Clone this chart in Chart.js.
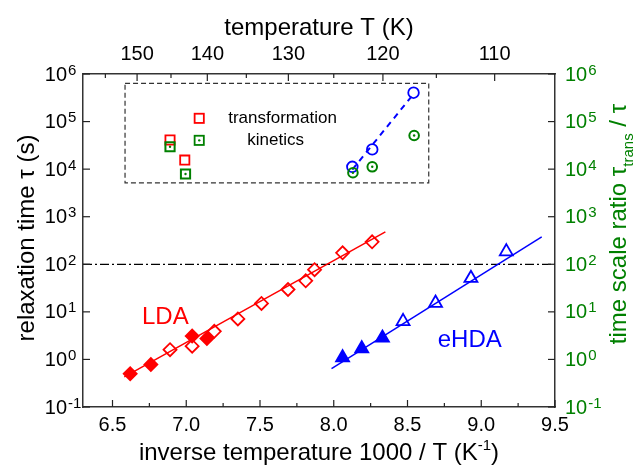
<!DOCTYPE html>
<html>
<head>
<meta charset="utf-8">
<script src="https://cdn.jsdelivr.net/npm/chart.js@4.4.1/dist/chart.umd.min.js"></script>
<style>
  html, body { margin: 0; padding: 0; background: #fff; }
</style>
</head>
<body>
<canvas id="chart" width="640" height="471"></canvas>
<script>
// LDA relaxation times (red diamonds) and fit
const ldaFilledX = [6.62, 6.76, 7.04, 7.14];
const ldaFilledTau = [0.50, 0.78, 3.1, 2.75];
const ldaOpenX = [6.89, 7.04, 7.19, 7.35, 7.51, 7.69, 7.81, 7.87, 8.06, 8.26];
const ldaOpenTau = [1.6, 1.9, 3.9, 7.1, 15, 29.5, 45, 77, 174, 297];
const ldaFitX = [6.58, 8.35];
const ldaFitTau = [0.43, 480];

// eHDA relaxation times (blue triangles) and fit
const ehdaFilledX = [8.06, 8.19, 8.33];
const ehdaFilledTau = [1.09, 1.69, 2.83];
const ehdaOpenX = [8.47, 8.69, 8.93, 9.17];
const ehdaOpenTau = [6.3, 15.3, 51, 185];
const ehdaFitX = [7.985, 9.41];
const ehdaFitTau = [0.64, 378];

// transformation kinetics (inset): tau_trans on the left axis, ratio on the right
const transLdaX = [6.89, 6.99];
const transLdaTau = [4.1e4, 1.55e4];
const ratioLdaX = [6.89, 6.995];
const ratioLda = [2.96e4, 7.9e3];
const transEhdaX = [8.126, 8.261, 8.541];
const transEhdaTau = [1.12e4, 2.6e4, 4.04e5];
const ratioEhdaX = [8.13, 8.261, 8.545];
const ratioEhda = [8.4e3, 1.12e4, 5.1e4];
const transFitX = [8.126, 8.541];
const transFitTau = [9.8e3, 3.8e5];

// tau = 100 s reference
const thresholdX = [6.3, 9.5];
const thresholdTau = [100, 100];

// axes
const invTempTicks = [6.5, 7.0, 7.5, 8.0, 8.5, 9.0, 9.5];
const invTempMinor = [6.75, 7.25, 7.75, 8.25, 8.75, 9.25];
const tempTicks = [150, 140, 130, 120, 110];
const tempMinor = [155, 145, 135, 125, 115];
const decadeExps = [-1, 0, 1, 2, 3, 4, 5, 6];

const RED = '#ff0000', BLUE = '#0000ff', GREEN = '#008000', INK = '#222';
const FONT = '"Liberation Sans", Arial, sans-serif';
Chart.defaults.font.family = FONT;

const pts = (xs, ys) => xs.map((x, i) => ({ x: x, y: ys[i] }));

function markers(label, xs, ys, style, r, color, filled, axis, bw) {
    return {
        label: label,
        data: pts(xs, ys),
        yAxisID: axis || 'y',
        showLine: false,
        pointStyle: style,
        pointRadius: r,
        pointHoverRadius: r,
        pointBorderWidth: bw === undefined ? 1.8 : bw,
        pointBorderColor: color,
        pointBackgroundColor: filled ? color : 'rgba(0,0,0,0)',
        borderColor: color,
        backgroundColor: color
    };
}

function fitLine(label, xs, ys, color, dash, width) {
    return {
        label: label,
        data: pts(xs, ys),
        showLine: true,
        pointRadius: 0,
        pointHoverRadius: 0,
        borderColor: color,
        borderWidth: width,
        borderDash: dash,
        fill: false
    };
}

// draws ticks pointing inwards, power-of-ten labels, titles and the inset frame
const decor = {
    id: 'decor',
    afterDraw(chart) {
        const ctx = chart.ctx;
        const { x, x2, y, y2 } = chart.scales;
        const area = chart.chartArea;
        ctx.save();

        ctx.strokeStyle = INK;
        ctx.lineWidth = 1.2;
        const mark = (scale, v, len) => {
            const p = scale.getPixelForValue(v);
            ctx.beginPath();
            if (scale.id === 'x') { ctx.moveTo(p, area.bottom); ctx.lineTo(p, area.bottom - len); }
            else if (scale.id === 'x2') { ctx.moveTo(p, area.top); ctx.lineTo(p, area.top + len); }
            else if (scale.id === 'y') { ctx.moveTo(area.left, p); ctx.lineTo(area.left + len, p); }
            else { ctx.moveTo(area.right, p); ctx.lineTo(area.right - len, p); }
            ctx.stroke();
        };
        invTempTicks.forEach(v => mark(x, v, 7));
        invTempMinor.forEach(v => mark(x, v, 4));
        tempTicks.forEach(t => mark(x2, 1000 / t, 7));
        tempMinor.forEach(t => mark(x2, 1000 / t, 4));
        decadeExps.forEach(e => { mark(y, Math.pow(10, e), 7); mark(y2, Math.pow(10, e), 7); });

        // 10^n labels
        const power = (e, xPos, yPos, side, color) => {
            ctx.fillStyle = color;
            ctx.textAlign = 'left';
            ctx.font = '20px ' + FONT;
            const bw = ctx.measureText('10').width;
            const x0 = side === 'left' ? xPos - bw : xPos;
            ctx.textBaseline = 'middle';
            ctx.fillText('10', x0, yPos + 1);
            ctx.font = '15px ' + FONT;
            ctx.textBaseline = 'alphabetic';
            ctx.fillText(String(e), x0 + bw + 1, yPos + 0.5);
        };
        decadeExps.forEach(e => {
            const p = y.getPixelForValue(Math.pow(10, e));
            power(e, area.left - 16, p, 'left', '#000');
            power(e, area.right + 10, p, 'right', GREEN);
        });

        // text made of parts, some raised or lowered
        const rich = (parts, cx, cy, rot, color) => {
            ctx.save();
            ctx.translate(cx, cy);
            ctx.rotate(rot);
            ctx.fillStyle = color;
            ctx.textAlign = 'left';
            ctx.textBaseline = 'alphabetic';
            let total = 0;
            parts.forEach(p => { ctx.font = p.size + 'px ' + FONT; p.w = ctx.measureText(p.t).width; total += p.w; });
            let pos = -total / 2;
            parts.forEach(p => { ctx.font = p.size + 'px ' + FONT; ctx.fillText(p.t, pos, p.dy); pos += p.w; });
            ctx.restore();
        };
        rich([{ t: 'temperature T (K)', size: 24, dy: 0 }], 319, 35, 0, '#000');
        rich([
            { t: 'inverse temperature 1000 / T (K', size: 24, dy: 0 },
            { t: '-1', size: 15, dy: -10 },
            { t: ')', size: 24, dy: 0 }
        ], 319, 460, 0, '#000');
        rich([{ t: 'relaxation time \u03c4 (s)', size: 24, dy: 0 }], 34, 238, -Math.PI / 2, '#000');
        rich([
            { t: 'time scale ratio \u03c4', size: 24, dy: 0 },
            { t: 'trans', size: 15, dy: 7.5 },
            { t: ' / \u03c4', size: 24, dy: 0 }
        ], 625.5, 224, -Math.PI / 2, GREEN);

        // series labels
        ctx.font = '24px ' + FONT;
        ctx.textAlign = 'left';
        ctx.textBaseline = 'alphabetic';
        ctx.fillStyle = RED;
        ctx.fillText('LDA', x.getPixelForValue(6.70), y.getPixelForValue(5.6));
        ctx.fillStyle = BLUE;
        ctx.fillText('eHDA', x.getPixelForValue(8.705), y.getPixelForValue(1.8));

        // inset frame
        const bx0 = x.getPixelForValue(6.585), bx1 = x.getPixelForValue(8.644);
        const by0 = y.getPixelForValue(6.37e5), by1 = y.getPixelForValue(5.16e3);
        ctx.strokeStyle = '#333';
        ctx.lineWidth = 1.2;
        ctx.setLineDash([5, 3]);
        ctx.strokeRect(bx0, by0, bx1 - bx0, by1 - by0);
        ctx.setLineDash([]);

        // inset key
        const kx = x.getPixelForValue(7.088);
        const ky1 = y.getPixelForValue(1.17e5), ky2 = y.getPixelForValue(4.03e4);
        ctx.lineWidth = 1.8;
        ctx.strokeStyle = RED;
        ctx.strokeRect(kx - 4.6, ky1 - 4.6, 9.2, 9.2);
        ctx.strokeStyle = GREEN;
        ctx.strokeRect(kx - 4.6, ky2 - 4.6, 9.2, 9.2);
        ctx.fillStyle = GREEN;
        ctx.beginPath();
        ctx.arc(kx, ky2, 1.2, 0, Math.PI * 2);
        ctx.fill();
        ctx.fillStyle = '#000';
        ctx.font = '17px ' + FONT;
        ctx.textBaseline = 'middle';
        ctx.fillText('transformation', kx + 29, ky1);
        ctx.fillText('kinetics', kx + 48, ky2);

        ctx.restore();
    }
};

const border = { display: true, color: '#333', width: 1.5 };
const noGrid = { display: false, drawTicks: false };

new Chart(document.getElementById('chart'), {
    type: 'scatter',
    data: {
        datasets: [
            markers('ratio LDA dot', ratioLdaX, ratioLda, 'circle', 1.2, GREEN, true, 'y2', 0),
            markers('ratio eHDA dot', ratioEhdaX, ratioEhda, 'circle', 1.2, GREEN, true, 'y2', 0),
            markers('ratio LDA', ratioLdaX, ratioLda, 'rect', 6.5, GREEN, false, 'y2', 2),
            markers('ratio eHDA', ratioEhdaX, ratioEhda, 'circle', 4.8, GREEN, false, 'y2', 2),
            markers('trans LDA', transLdaX, transLdaTau, 'rect', 6.5, RED, false),
            markers('trans eHDA', transEhdaX, transEhdaTau, 'circle', 5.3, BLUE, false),
            markers('LDA filled', ldaFilledX, ldaFilledTau, 'rectRot', 6.5, RED, true),
            markers('LDA open', ldaOpenX, ldaOpenTau, 'rectRot', 6.5, RED, false),
            markers('eHDA filled', ehdaFilledX, ehdaFilledTau, 'triangle', 7.5, BLUE, true),
            markers('eHDA open', ehdaOpenX, ehdaOpenTau, 'triangle', 7.5, BLUE, false),
            fitLine('LDA fit', ldaFitX, ldaFitTau, RED, [], 1.5),
            fitLine('eHDA fit', ehdaFitX, ehdaFitTau, BLUE, [], 1.5),
            fitLine('trans fit', transFitX, transFitTau, BLUE, [6, 5], 2),
            fitLine('100 s', thresholdX, thresholdTau, '#000', [9, 3, 2, 3], 1.2)
        ]
    },
    options: {
        responsive: false,
        animation: false,
        devicePixelRatio: 1,
        events: [],
        layout: { padding: 0 },
        plugins: { legend: { display: false }, tooltip: { enabled: false } },
        scales: {
            x: {
                type: 'linear', position: 'bottom', min: 6.3, max: 9.5,
                grid: noGrid, border: border,
                afterBuildTicks: s => { s.ticks = invTempTicks.map(v => ({ value: v })); },
                afterFit: s => { s.height = 64; },
                ticks: { autoSkip: false, maxRotation: 0, padding: 6, color: '#000', font: { size: 20 },
                    callback: v => Number(v).toFixed(1) }
            },
            x2: {
                type: 'linear', position: 'top', min: 6.3, max: 9.5,
                grid: noGrid, border: border,
                afterBuildTicks: s => { s.ticks = tempTicks.map(t => ({ value: 1000 / t })); },
                afterFit: s => { s.height = 74; },
                ticks: { autoSkip: false, maxRotation: 0, padding: 8, color: '#000', font: { size: 20 },
                    callback: v => String(Math.round(1000 / v)) }
            },
            y: {
                type: 'logarithmic', position: 'left', min: 0.1, max: 1e6,
                grid: noGrid, border: border,
                ticks: { display: false },
                afterFit: s => { s.width = 83; }
            },
            y2: {
                type: 'logarithmic', position: 'right', min: 0.1, max: 1e6,
                grid: noGrid, border: border,
                ticks: { display: false },
                afterFit: s => { s.width = 85; }
            }
        }
    },
    plugins: [decor]
});
</script>
</body>
</html>
